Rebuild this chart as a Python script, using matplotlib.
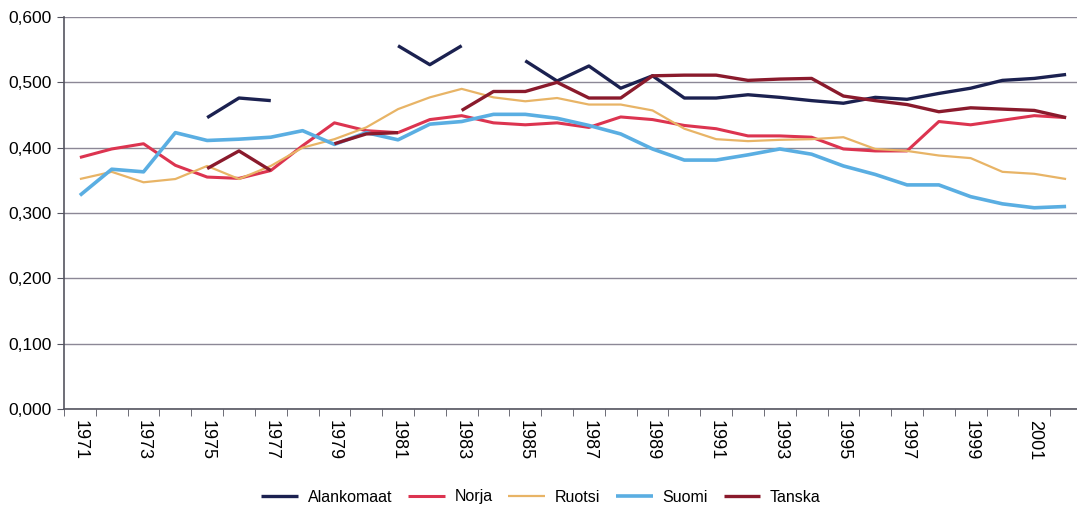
import numpy as np
import matplotlib
matplotlib.use("Agg")
import matplotlib.pyplot as plt
from matplotlib.ticker import FuncFormatter

nan = np.nan
years = list(range(1971, 2003))

alankomaat = [nan, nan, nan, nan, 0.446, 0.476, 0.472, nan, nan, nan,
              0.556, 0.527, 0.556, nan, 0.533, 0.502, 0.525, 0.491, 0.510, 0.476,
              0.476, 0.481, 0.477, 0.472, 0.468, 0.477, 0.474, 0.483, 0.491, 0.503,
              0.506, 0.512]
norja = [0.385, 0.398, 0.406, 0.373, 0.355, 0.353, 0.365, 0.403, 0.438, 0.426,
         0.423, 0.443, 0.449, 0.438, 0.435, 0.438, 0.431, 0.447, 0.443, 0.434,
         0.429, 0.418, 0.418, 0.416, 0.398, 0.395, 0.395, 0.440, 0.435, 0.442,
         0.449, 0.446]
ruotsi = [0.352, 0.363, 0.347, 0.352, 0.372, 0.352, 0.372, 0.400, 0.413, 0.431,
          0.459, 0.477, 0.490, 0.477, 0.471, 0.476, 0.466, 0.466, 0.457, 0.429,
          0.413, 0.410, 0.412, 0.413, 0.416, 0.398, 0.395, 0.388, 0.384, 0.363,
          0.360, 0.352]
suomi = [0.327, 0.367, 0.363, 0.423, 0.411, 0.413, 0.416, 0.426, 0.405, 0.423,
         0.412, 0.436, 0.440, 0.451, 0.451, 0.445, 0.434, 0.421, 0.398, 0.381,
         0.381, 0.389, 0.398, 0.390, 0.372, 0.359, 0.343, 0.343, 0.325, 0.314,
         0.308, 0.310]
tanska = [nan, nan, nan, nan, 0.368, 0.395, 0.365, nan, 0.406, 0.421,
          0.423, nan, 0.457, 0.486, 0.486, 0.500, 0.476, 0.476, 0.510, 0.511,
          0.511, 0.503, 0.505, 0.506, 0.479, 0.472, 0.466, 0.455, 0.461, 0.459,
          0.457, 0.446]

series = [
    ("Alankomaat", alankomaat, "#1b2150", 2.4),
    ("Norja", norja, "#dc3450", 2.2),
    ("Ruotsi", ruotsi, "#e8b466", 1.6),
    ("Suomi", suomi, "#5aaee2", 2.6),
    ("Tanska", tanska, "#8a1a2c", 2.4),
]

plt.rcParams['font.family'] = ['Liberation Sans', 'DejaVu Sans']

fig = plt.figure(figsize=(10.77, 5.13), dpi=100)
ax = fig.add_axes([64 / 1077, 1 - 409 / 513, 1018 / 1077, 392 / 513])

x = np.arange(len(years))
for name, vals, col, lw in series:
    ax.plot(x, vals, color=col, lw=lw, label=name, solid_capstyle='butt')

ax.set_xlim(-0.5, len(years) - 0.5)
ax.set_ylim(0, 0.6)
ax.set_yticks(np.arange(0, 0.61, 0.1))
ax.yaxis.set_major_formatter(FuncFormatter(lambda v, p: f"{v:.3f}".replace(".", ",")))
ax.grid(axis='y', color='#8c8896', lw=1.0)
ax.set_axisbelow(True)

ax.set_xticks(x[::2])
ax.set_xticklabels([str(y) for y in years[::2]], rotation=270, fontsize=13)
ax.set_xticks(np.arange(-0.5, len(years), 1), minor=True)
ax.tick_params(axis='x', which='major', length=0, pad=8)
ax.tick_params(axis='x', which='minor', length=5, color='#555560')
ax.tick_params(axis='y', length=5, color='#555560', labelsize=12.5, pad=4)

for s in ['top', 'right']:
    ax.spines[s].set_visible(False)
ax.spines['left'].set_color('#555560')
ax.spines['bottom'].set_color('#555560')
ax.spines['left'].set_linewidth(1.2)
ax.spines['bottom'].set_linewidth(1.2)

fig.legend(loc='center', bbox_to_anchor=(541 / 1077, 1 - 497 / 513), ncol=5,
           frameon=False, fontsize=11.5, handlelength=2.3, columnspacing=1.0,
           handletextpad=0.6)

fig.savefig("out.png", dpi=100)
